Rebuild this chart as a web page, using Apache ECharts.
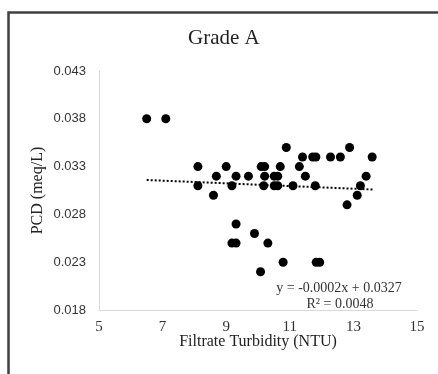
<!DOCTYPE html>
<html><head><meta charset="utf-8">
<script src="https://cdn.jsdelivr.net/npm/echarts@6/dist/echarts.min.js"></script>
<style>html,body{margin:0;padding:0;background:#fff}#c{width:438px;height:374px}</style>
</head><body><div id="c"></div>
<script>
var turbidity = [6.50,7.10,8.11,8.11,8.60,8.69,9.00,9.18,9.31,9.70,10.10,10.21,10.21,10.18,10.51,10.62,10.51,10.62,10.70,10.89,11.10,11.30,11.40,11.49,11.72,11.82,11.80,12.28,12.59,12.88,12.80,13.12,13.22,13.40,13.59,9.31,9.18,9.31,9.89,10.31,10.08,10.79,11.83,11.94];
var pcd = [0.038,0.038,0.033,0.031,0.030,0.032,0.033,0.031,0.032,0.032,0.033,0.033,0.032,0.031,0.032,0.032,0.031,0.031,0.033,0.035,0.031,0.033,0.034,0.032,0.034,0.034,0.031,0.034,0.034,0.035,0.029,0.030,0.031,0.032,0.034,0.027,0.025,0.025,0.026,0.025,0.022,0.023,0.023,0.023];
var trendX = [6.5, 13.6];
var trendY = [0.0316, 0.0306];
var xTicks = [5,7,9,11,13,15];
var yTicks = [0.018,0.023,0.028,0.033,0.038,0.043];
var titleText = 'Grade A';
var xName = 'Filtrate Turbidity (NTU)';
var yName = 'PCD (meq/L)';
var eqText = 'y = -0.0002x + 0.0327';
var r2Text = 'R² = 0.0048';

var pts = turbidity.map(function(x,i){return [x,pcd[i]];});
var trend = trendX.map(function(x,i){return [x,trendY[i]];});
var serif = '"Liberation Serif", "DejaVu Serif", serif';
var chart = echarts.init(document.getElementById('c'), null, {renderer:'canvas'});
chart.setOption({
  animation:false,
  backgroundColor:'#fff',
  title:{text:titleText,left:188,top:28,textStyle:{fontFamily:serif,fontSize:21,fontWeight:'normal',color:'#222'},padding:0,itemGap:0},
  grid:{left:99,right:21,top:71,bottom:64},
  xAxis:{type:'value',min:xTicks[0],max:xTicks[xTicks.length-1],interval:2,
    name:xName,nameLocation:'middle',nameGap:24,nameMoveOverlap:false,nameTextStyle:{fontFamily:serif,fontSize:16,color:'#222'},
    axisLine:{show:true,lineStyle:{color:'#d9d9d9',width:1}},axisTick:{show:false},splitLine:{show:false},
    axisLabel:{customValues:xTicks,fontFamily:serif,fontSize:15,color:'#333',margin:10}},
  yAxis:{type:'value',min:yTicks[0],max:yTicks[yTicks.length-1],interval:0.005,
    name:yName,nameLocation:'middle',nameGap:53,nameMoveOverlap:false,nameTextStyle:{fontFamily:serif,fontSize:16,color:'#222'},
    axisLine:{show:true,lineStyle:{color:'#d9d9d9',width:1}},axisTick:{show:false},splitLine:{show:false},
    axisLabel:{customValues:yTicks,fontFamily:'"Liberation Sans", Arial, sans-serif',fontSize:13,color:'#333',margin:13,
      formatter:function(v){return v.toFixed(3);}}},
  series:[
    {type:'scatter',data:pts,symbol:'circle',symbolSize:9,itemStyle:{color:'#000',opacity:1},z:3},
    {type:'line',data:trend,showSymbol:false,symbol:'none',lineStyle:{color:'#000',width:2,type:[2,2]},z:2}
  ],
  graphic:[
    {type:'rect',left:6,top:10,shape:{width:460,height:420},style:{fill:'none',stroke:'#404040',lineWidth:2.5},silent:true},
    {type:'text',x:339,y:288,style:{text:eqText,textAlign:'center',textVerticalAlign:'middle',font:'14px '+serif,fill:'#333'}},
    {type:'text',x:340,y:304,style:{text:r2Text,textAlign:'center',textVerticalAlign:'middle',font:'14px '+serif,fill:'#333'}}
  ]
});
</script></body></html>
